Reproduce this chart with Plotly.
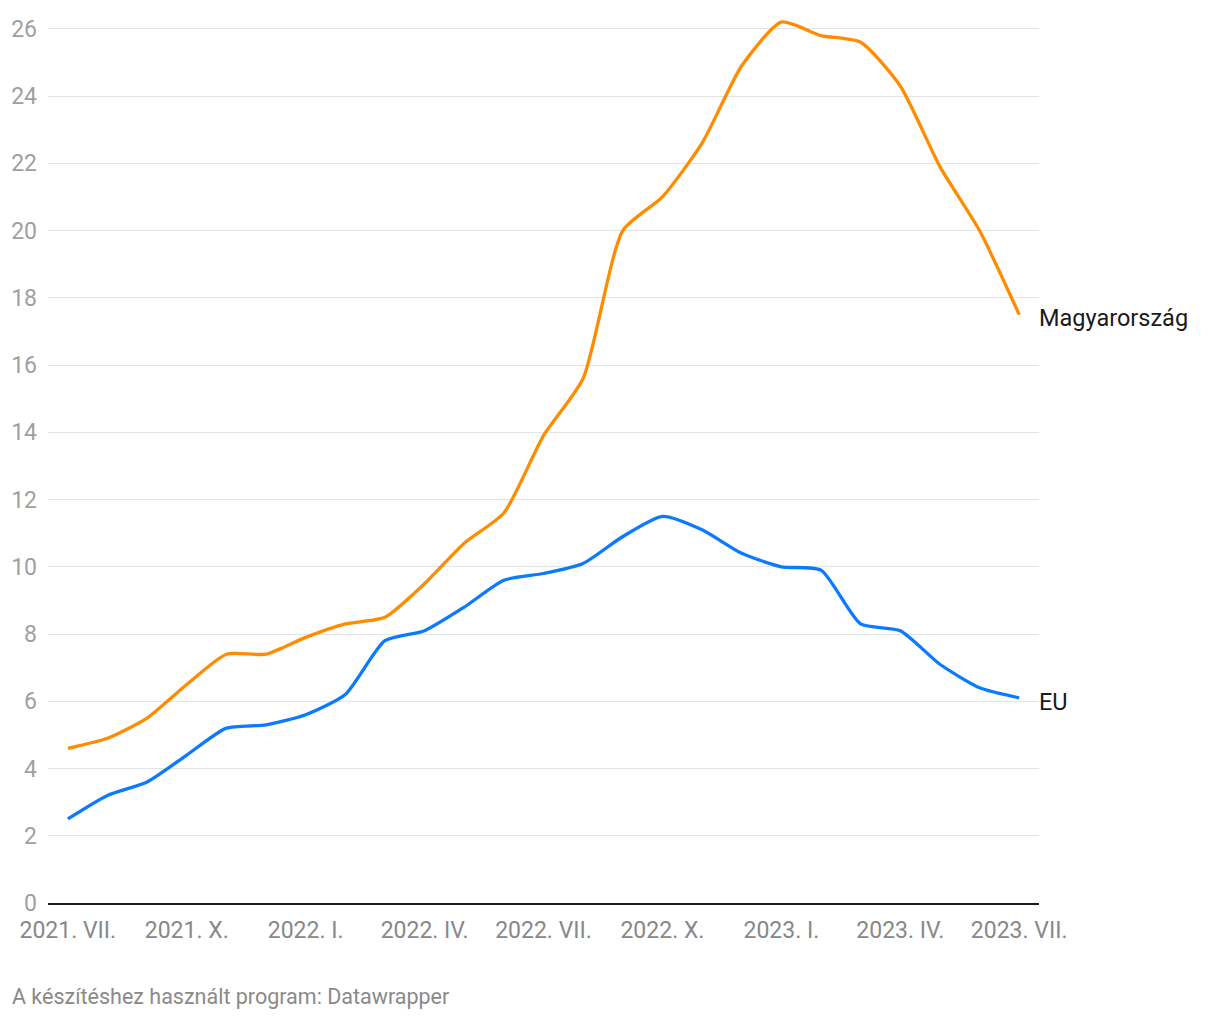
import plotly.graph_objects as go

months = list(range(25))
tick_idx = [0, 3, 6, 9, 12, 15, 18, 21, 24]
tick_labels = ["2021. VII.", "2021. X.", "2022. I.", "2022. IV.", "2022. VII.",
               "2022. X.", "2023. I.", "2023. IV.", "2023. VII."]

hungary = [4.6, 4.9, 5.5, 6.5, 7.4, 7.4, 7.9, 8.3, 8.5, 9.5, 10.7, 11.6, 13.9,
           15.6, 20.0, 21.0, 22.6, 24.9, 26.2, 25.8, 25.6, 24.3, 21.9, 20.0, 17.5]
eu = [2.5, 3.2, 3.6, 4.4, 5.2, 5.3, 5.6, 6.2, 7.8, 8.1, 8.8, 9.6, 9.8,
      10.1, 10.9, 11.5, 11.1, 10.4, 10.0, 9.9, 8.3, 8.1, 7.1, 6.4, 6.1]

ORANGE = "#FF8C00"
BLUE = "#0A7AFF"

fig = go.Figure()
fig.add_trace(go.Scatter(x=months, y=hungary, mode="lines", name="Magyarország",
                         line=dict(color=ORANGE, width=3.3, shape="spline", smoothing=0.6),
                         hoverinfo="skip"))
fig.add_trace(go.Scatter(x=months, y=eu, mode="lines", name="EU",
                         line=dict(color=BLUE, width=3.3, shape="spline", smoothing=0.6),
                         hoverinfo="skip"))

fig.add_annotation(x=months[-1], y=hungary[-1], text="Magyarország", showarrow=False,
                   xanchor="left", yanchor="middle", xshift=18, yshift=-3,
                   font=dict(size=23.5, color="#1a1a1a"))
fig.add_annotation(x=months[-1], y=eu[-1], text="EU", showarrow=False,
                   xanchor="left", yanchor="middle", xshift=18, yshift=-4,
                   font=dict(size=23.5, color="#1a1a1a"))
fig.add_annotation(xref="paper", yref="paper", x=-0.0383, y=-0.105,
                   text="A készítéshez használt program: Datawrapper", showarrow=False,
                   xanchor="left", yanchor="middle",
                   font=dict(size=21.5, color="#8a8a8a"))

fig.update_layout(
    width=1212, height=1012,
    margin=dict(l=40, r=181, t=4, b=117),
    paper_bgcolor="white", plot_bgcolor="white",
    showlegend=False,
    font=dict(family="Roboto", size=23),
    xaxis=dict(range=[-0.5, 24.5], tickmode="array", tickvals=tick_idx, ticktext=tick_labels,
               showgrid=False, zeroline=False, showline=True, linecolor="#1a1a1a", linewidth=2,
               ticks="", ticklabelstandoff=5,
               tickfont=dict(size=23, color="#888888"), fixedrange=True),
    yaxis=dict(range=[0, 26.5], tickmode="array", tickvals=list(range(0, 27, 2)),
               showgrid=True, gridcolor="#e4e4e4", gridwidth=1, zeroline=False,
               ticks="", ticklabelstandoff=10,
               tickfont=dict(size=23, color="#a0a0a0"), fixedrange=True),
)

fig.write_html("out.html")
